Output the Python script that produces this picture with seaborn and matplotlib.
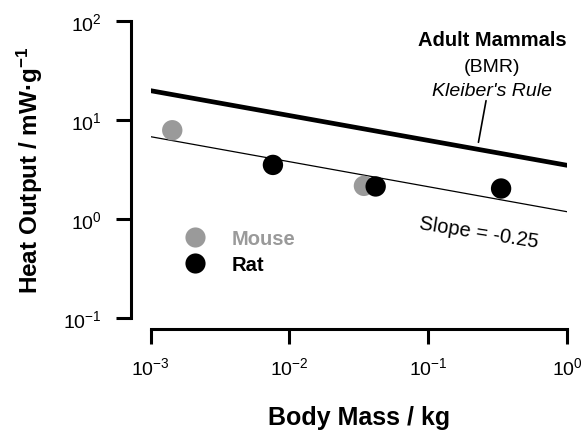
import matplotlib
matplotlib.use("Agg")
import matplotlib.pyplot as plt
import seaborn as sns
import pandas as pd
import numpy as np
from matplotlib.lines import Line2D

# ---- data ----
species = ["Mouse", "Mouse", "Rat", "Rat", "Rat"]
body_mass = [1.43e-3, 0.0344, 7.6e-3, 0.0418, 0.335]
heat_output = [7.9, 2.17, 3.53, 2.14, 2.04]

line_mass = [1e-3, 1.0]
kleiber_heat = [19.8, 3.5]
fit_heat = [6.8, 1.19]

x_ticks = [1e-3, 1e-2, 1e-1, 1e0]
y_ticks = [1e-1, 1e0, 1e1, 1e2]

pointer_mass = [0.261, 0.230]
pointer_heat = [15.7, 5.97]

mouse_color = "#9a9a9a"
rat_color = "#000000"

sns.set_style("ticks")
plt.rcParams["font.family"] = ["Liberation Sans", "DejaVu Sans"]
plt.rcParams["mathtext.fontset"] = "custom"
plt.rcParams["mathtext.rm"] = "Liberation Sans"
plt.rcParams["mathtext.it"] = "Liberation Sans:italic"
plt.rcParams["mathtext.bf"] = "Liberation Sans:bold"
plt.rcParams["text.color"] = "black"
plt.rcParams["axes.labelcolor"] = "black"
plt.rcParams["xtick.color"] = "black"
plt.rcParams["ytick.color"] = "black"
plt.rcParams["axes.edgecolor"] = "black"

fig = plt.figure(figsize=(5.83, 4.31), dpi=100)
W, H = 583, 431
x0, x1 = 150.7, 567.0
ytop, ybot = 22.0, 319.3
ax = fig.add_axes([x0 / W, (H - ybot) / H, (x1 - x0) / W, (ybot - ytop) / H])

# lines
sns.lineplot(x=line_mass, y=kleiber_heat, ax=ax, color="black", lw=3.4)
sns.lineplot(x=line_mass, y=fit_heat, ax=ax, color="black", lw=0.9)
sns.lineplot(x=pointer_mass, y=pointer_heat, ax=ax, color="black", lw=1.2)

df = pd.DataFrame({"species": species, "mass": body_mass, "heat": heat_output})
sns.scatterplot(data=df, x="mass", y="heat", hue="species",
                palette={"Mouse": mouse_color, "Rat": rat_color},
                s=215, edgecolor="none", linewidth=0, ax=ax, legend=False,
                zorder=5)

ax.set_xscale("log")
ax.set_yscale("log")
ax.set_xlim(1e-3, 1e0)
ax.set_ylim(1e-1, 1e2)
ax.set_xticks(x_ticks)
ax.set_yticks(y_ticks)
ax.minorticks_off()

sns.despine(ax=ax, offset={"left": 14.5, "bottom": 8})
for sp in ["left", "bottom"]:
    ax.spines[sp].set_linewidth(2.2)
ax.tick_params(axis="both", which="major", length=11, width=2.2,
               labelsize=14, color="black", labelcolor="black")
ax.tick_params(axis="x", pad=8)
ax.tick_params(axis="y", pad=10)

ax.set_xlabel("Body Mass / kg", fontsize=18, fontweight="bold", labelpad=20)
ax.set_ylabel(r"Heat Output / mW·g$^{\mathbf{-1}}$", fontsize=17.5,
              fontweight="bold", labelpad=13)

# annotations
ax.text(0.29, 65.8, "Adult Mammals", ha="center", va="center",
        fontsize=14.5, fontweight="bold")
ax.text(0.29, 34.4, "(BMR)", ha="center", va="center", fontsize=14)
ax.text(0.29, 20.1, "Kleiber's Rule", ha="center", va="center",
        fontsize=14, style="italic")
ax.text(0.23, 0.74, "Slope = -0.25", ha="center", va="center",
        fontsize=14.5, rotation=-9)

handles = [Line2D([], [], marker="o", ls="", color=mouse_color, markersize=14.5,
                  markeredgewidth=0),
           Line2D([], [], marker="o", ls="", color=rat_color, markersize=14.5,
                  markeredgewidth=0)]
fig.legend(handles=handles, labels=["Mouse", "Rat"], loc="center left",
           bbox_to_anchor=(185.3 / W, (H - 252.5) / H), frameon=False,
           borderpad=0, borderaxespad=0, handlelength=1.0, handletextpad=1.3,
           labelspacing=0.35, labelcolor=[mouse_color, rat_color],
           prop={"weight": "bold", "size": 14.5})

fig.savefig("out.png", dpi=100)
